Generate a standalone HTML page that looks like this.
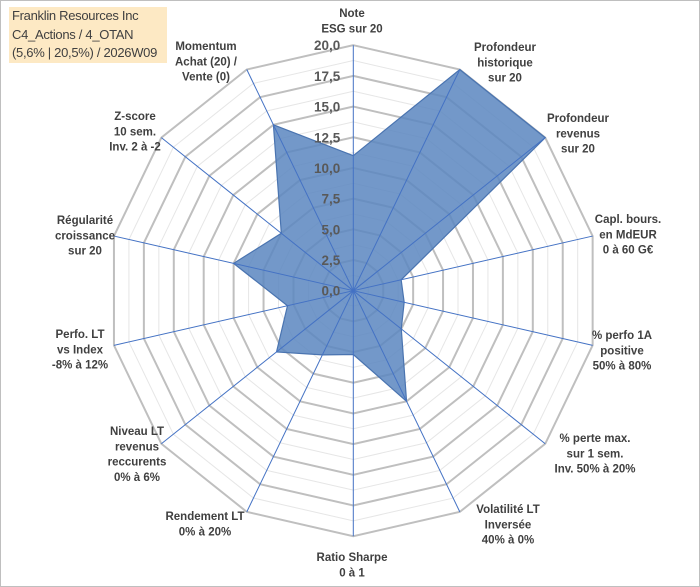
<!DOCTYPE html>
<html><head><meta charset="utf-8"><style>
body{margin:0;background:#fff;}
#wrap{position:relative;width:700px;height:587px;overflow:hidden;font-family:"Liberation Sans",sans-serif;}
#frame{position:absolute;left:0;top:0;width:698px;height:585px;border:1px solid #bfbfbf;}
#title{position:absolute;left:9px;top:7px;width:158px;height:56px;background:#fde9c4;color:#404040;font-size:13px;line-height:18.5px;padding-left:3px;box-sizing:border-box;letter-spacing:-0.3px;}
svg text{font-family:"Liberation Sans",sans-serif;}
</style></head><body>
<div id="wrap">
<div id="frame"></div>
<svg id="chart" width="700" height="587" style="position:absolute;left:0;top:0"></svg>
<div id="title">Franklin Resources Inc<br>C4_Actions / 4_OTAN<br>(5,6% | 20,5%) / 2026W09</div>
</div>
<script>
const categories=[["Note","ESG sur 20"],["Profondeur","historique","sur 20"],["Profondeur","revenus","sur 20"],["Capl. bours.","en MdEUR","0 à 60 G€"],["% perfo 1A","positive","50% à 80%"],["% perte max.","sur 1 sem.","Inv. 50% à 20%"],["Volatilité LT","Inversée","40% à 0%"],["Ratio Sharpe","0 à 1"],["Rendement LT","0% à 20%"],["Niveau LT","revenus","reccurents","0% à 6%"],["Perfo. LT","vs Index","-8% à 12%"],["Régularité","croissance","sur 20"],["Z-score","10 sem.","Inv. 2 à -2"],["Momentum","Achat (20) /","Vente (0)"]];
const values=[11,20,20,4,4.25,5,10,5.2,5.8,8,5.5,10,7.5,15];
const tickLabels=["0,0","2,5","5,0","7,5","10,0","12,5","15,0","17,5","20,0"];
const maxVal=20;
const cx=353.3,cy=290.7,R=245.5;
const labelPos=[[352,12],[505,46],[578,117],[628,218],[622,334],[595,437],[508,508],[352,556],[205,515],[137,430],[80,333],[85,219],[135,115],[206,45]];
const svg=document.getElementById('chart');
const NS='http://www.w3.org/2000/svg';
const N=categories.length;
function ang(i){return i*2*Math.PI/N;}
function pt(i,v){const r=v/maxVal*R;return [cx+r*Math.sin(ang(i)),cy-r*Math.cos(ang(i))];}
function mk(tag,attrs){const e=document.createElementNS(NS,tag);for(const k in attrs)e.setAttribute(k,attrs[k]);svg.appendChild(e);return e;}
for(let k=1;k<=16;k++){
  const v=k*maxVal/16;
  const pts=[];for(let i=0;i<N;i++)pts.push(pt(i,v).join(','));
  const major=k%2===0;
  const g=mk('polygon',{points:pts.join(' '),fill:'none',stroke:major?'#bfbfbf':'#e6e6e6','stroke-width':major?2:1});
  
  
}
const dp=values.map((v,i)=>pt(i,v).join(',')).join(' ');
const area=mk('polygon',{points:dp,fill:'#5b86bf','fill-opacity':0.85,stroke:'#4a74b0','stroke-width':1.2});


for(let i=0;i<N;i++){
  const p=pt(i,maxVal);
  const l=mk('line',{x1:cx,y1:cy,x2:p[0],y2:p[1],stroke:'#4472c4','stroke-width':1});
  
  
}
tickLabels.forEach((t,k)=>{
  const y=cy-(k*2.5/maxVal)*R;
  const e=mk('text',{x:cx-13,y:y+5,'text-anchor':'end','font-size':13.5,'font-weight':'bold',fill:'#595959'});
  e.textContent=t;
  
  
});
categories.forEach((lines,i)=>{
  const [x,y]=labelPos[i];
  const e=mk('text',{x:x,y:y+5,'text-anchor':'middle','font-size':11.5,'font-weight':'bold',fill:'#404040'});
  lines.forEach((s,j)=>{const ts=document.createElementNS(NS,'tspan');ts.setAttribute('x',x);ts.setAttribute('dy',j===0?0:15.3);ts.textContent=s;e.appendChild(ts);});
  
  
});
</script>
</body></html>
